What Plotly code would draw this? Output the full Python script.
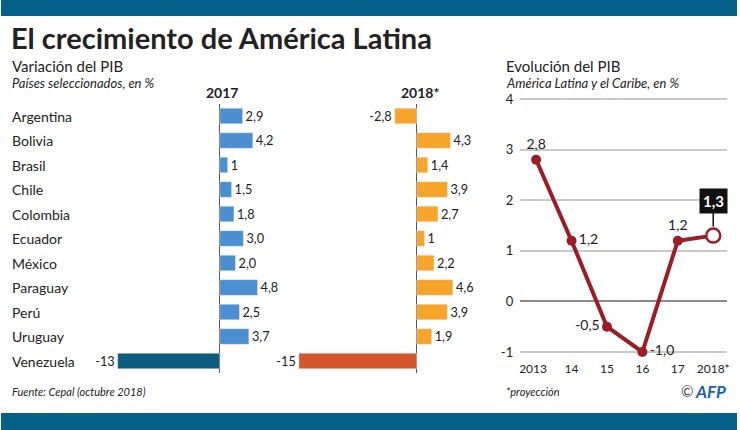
import plotly.graph_objects as go

countries = ["Argentina", "Bolivia", "Brasil", "Chile", "Colombia", "Ecuador",
             "México", "Paraguay", "Perú", "Uruguay", "Venezuela"]
gdp_2017 = [2.9, 4.2, 1.0, 1.5, 1.8, 3.0, 2.0, 4.8, 2.5, 3.7, -13]
gdp_2018 = [-2.8, 4.3, 1.4, 3.9, 2.7, 1.0, 2.2, 4.6, 3.9, 1.9, -15]
labels_2017 = ["2,9", "4,2", "1", "1,5", "1,8", "3,0", "2,0", "4,8", "2,5", "3,7", "-13"]
labels_2018 = ["-2,8", "4,3", "1,4", "3,9", "2,7", "1", "2,2", "4,6", "3,9", "1,9", "-15"]

years = ["2013", "14", "15", "16", "17", "2018*"]
latam = [2.8, 1.2, -0.5, -1.0, 1.2, 1.3]
latam_labels = ["2,8", "1,2", "-0,5", "-1,0", "1,2", "1,3"]

W, H = 740, 430
FONT = "Lato"
TXT = "#222222"

def px(x):
    return x / W

def py(y):
    return (H - y) / H

colors_2017 = ["#4b8fd0"] * 10 + ["#0b5c80"]
colors_2018 = ["#f7a42a"] * 10 + ["#d5562b"]
idx = list(range(len(countries)))

fig = go.Figure()

fig.add_trace(go.Bar(x=gdp_2017, y=idx, orientation="h", marker_color=colors_2017,
                     width=0.64, text=labels_2017, textposition="outside",
                     textfont=dict(family=FONT, size=13, color=TXT), cliponaxis=False,
                     xaxis="x", yaxis="y", hoverinfo="skip"))
fig.add_trace(go.Bar(x=gdp_2018, y=idx, orientation="h", marker_color=colors_2018,
                     width=0.64, text=labels_2018, textposition="outside",
                     textfont=dict(family=FONT, size=13, color=TXT), cliponaxis=False,
                     xaxis="x2", yaxis="y2", hoverinfo="skip"))

line_col = "#9c1d26"
fig.add_trace(go.Scatter(x=list(range(5)), y=latam[:5], mode="lines+markers+text",
                         line=dict(color=line_col, width=4),
                         marker=dict(size=10, color=line_col),
                         text=latam_labels[:5],
                         textposition=["top center", "middle right", "middle left",
                                       "middle right", "top center"],
                         textfont=dict(family=FONT, size=14, color=TXT),
                         cliponaxis=False, xaxis="x3", yaxis="y3", hoverinfo="skip"))
fig.add_trace(go.Scatter(x=[4, 5], y=latam[4:], mode="lines",
                         line=dict(color=line_col, width=4),
                         cliponaxis=False, xaxis="x3", yaxis="y3", hoverinfo="skip"))
fig.add_trace(go.Scatter(x=[5], y=[latam[5]], mode="markers",
                         marker=dict(size=14, color="white", line=dict(color=line_col, width=2.5)),
                         cliponaxis=False, xaxis="x3", yaxis="y3", hoverinfo="skip"))

# axis geometry
ydom = [py(373.25), py(103.75)]
r1 = [-14.5, 6.5]
s = 7.9
fig.update_layout(
    xaxis=dict(domain=[px(220 + r1[0] * s), px(220 + r1[1] * s)], range=r1,
               showgrid=False, showticklabels=False, zeroline=True,
               zerolinecolor="#555555", zerolinewidth=1),
    yaxis=dict(domain=ydom, range=[10.5, -0.5], showgrid=False, showticklabels=False,
               zeroline=False),
    xaxis2=dict(domain=[px(418 - 16 * s), px(418 + 6 * s)], range=[-16, 6],
                showgrid=False, showticklabels=False, zeroline=True,
                zerolinecolor="#555555", zerolinewidth=1),
    yaxis2=dict(domain=ydom, range=[10.5, -0.5], showgrid=False, showticklabels=False,
                zeroline=False, anchor="x2"),
)

ys = 50.6
yr = [-1.15, 4.2]
fig.update_layout(
    xaxis3=dict(domain=[px(522), px(730)], range=[-0.45, 5.39], anchor="y3",
                tickmode="array", tickvals=list(range(6)),
                ticktext=["2013  "] + years[1:],
                showgrid=False, zeroline=False, showline=False, ticks="",
                tickfont=dict(family=FONT, size=12, color=TXT)),
    yaxis3=dict(domain=[py(352 - (yr[0] + 1) * ys), py(99 - (yr[1] - 4) * ys)], range=yr,
                anchor="x3", tickvals=[-1, 0, 1, 2, 3, 4], ticktext=["-1", "0", "1", "2", "3", "4"],
                showgrid=True, gridcolor="#c9c9c9", gridwidth=1.5,
                zeroline=True, zerolinecolor="#8a8a8a", zerolinewidth=2,
                tickfont=dict(family=FONT, size=13, color=TXT), ticklabelstandoff=6),
)

shapes = [
    dict(type="rect", xref="paper", yref="paper", x0=0, x1=1, y0=py(16), y1=1,
         fillcolor="#05608a", line=dict(width=0), layer="below"),
    dict(type="rect", xref="paper", yref="paper", x0=0, x1=1, y0=0, y1=py(413),
         fillcolor="#05608a", line=dict(width=0), layer="below"),
]

ann = []
def t(x, y, text, size, bold=False, italic=False, xanchor="left", color=TXT, yanchor="middle"):
    if bold:
        text = "<b>" + text + "</b>"
    if italic:
        text = "<i>" + text + "</i>"
    ann.append(dict(x=px(x), y=py(y), xref="paper", yref="paper", text=text, showarrow=False,
                    xanchor=xanchor, yanchor=yanchor,
                    font=dict(family=FONT, size=size, color=color)))

t(8, 38, "El crecimiento de América Latina", 29, bold=True)
t(9, 66, "Variación del PIB", 15)
t(9, 83, "Países seleccionados, en %", 13, italic=True)
t(222, 93, "2017", 14, bold=True, xanchor="center")
t(421, 93, "2018*", 14, bold=True, xanchor="center")
t(506, 66, "Evolución del PIB", 15)
t(506, 83, "América Latina y el Caribe, en %", 13, italic=True)
t(9, 391, "Fuente: Cepal (octubre 2018)", 11, italic=True)
t(506, 391, "*proyección", 11, italic=True)
t(698, 391, "©", 15, xanchor="right", color="#444444")
t(731, 391, "<b><i>AFP</i></b>", 17, xanchor="right", color="#1a5fb4")

for i, c in enumerate(countries):
    ann.append(dict(x=px(9), y=i, xref="paper", yref="y", text=c, showarrow=False,
                    xanchor="left", yanchor="middle",
                    font=dict(family=FONT, size=14, color=TXT)))

ann.append(dict(x=5, y=latam[5], xref="x3", yref="y3", text="<b>" + latam_labels[5] + "</b>",
                showarrow=True, arrowhead=0, arrowwidth=1.5, arrowcolor="#111111",
                ax=0, ay=-35, standoff=9, bgcolor="#111111", borderpad=3,
                font=dict(family=FONT, size=15, color="white")))

fig.update_layout(width=W, height=H, margin=dict(l=0, r=0, t=0, b=0),
                  paper_bgcolor="white", plot_bgcolor="white", showlegend=False,
                  shapes=shapes, annotations=ann, barmode="overlay",
                  font=dict(family=FONT, color=TXT))

fig.write_html("out.html")
